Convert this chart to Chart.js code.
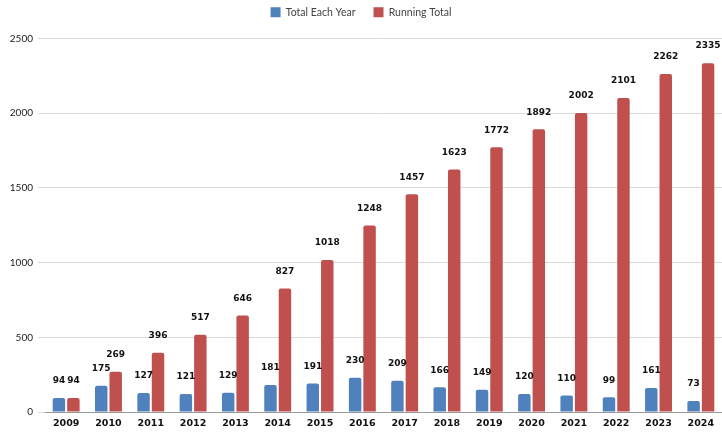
<!DOCTYPE html>
<html>
<head>
<meta charset="utf-8">
<script src="https://cdn.jsdelivr.net/npm/chart.js@4.4.1/dist/chart.umd.min.js"></script>
<style>
  html, body { margin: 0; padding: 0; background: #fff; }
  #wrap { width: 722px; height: 432px; }
</style>
</head>
<body>
<div id="wrap"><canvas id="myChart" width="722" height="432"></canvas></div>
<script>
// Data
const years = ['2009', '2010', '2011', '2012', '2013', '2014', '2015', '2016',
               '2017', '2018', '2019', '2020', '2021', '2022', '2023', '2024'];
const totalEachYear = [94, 175, 127, 121, 129, 181, 191, 230, 209, 166, 149, 120, 110, 99, 161, 73];
const runningTotal = [94, 269, 396, 517, 646, 827, 1018, 1248, 1457, 1623, 1772, 1892, 2002, 2101, 2262, 2335];
const yTicks = [0, 500, 1000, 1500, 2000, 2500];

// Draw value labels above each bar
const valueLabels = {
    id: 'valueLabels',
    afterDatasetsDraw(chart) {
        const ctx = chart.ctx;
        ctx.save();
        ctx.font = 'bold 9px "DejaVu Sans"';
        ctx.fillStyle = '#111';
        ctx.textAlign = 'center';
        ctx.textBaseline = 'middle';
        chart.data.datasets.forEach((ds, i) => {
            chart.getDatasetMeta(i).data.forEach((bar, j) => {
                ctx.fillText(ds.data[j], bar.x, bar.y - 17);
            });
        });
        ctx.restore();
    }
};

// Extra space under the legend
const legendGap = {
    id: 'legendGap',
    beforeInit(chart) {
        const fit = chart.legend.fit;
        chart.legend.fit = function () {
            fit.call(this);
            this.height += 11;
        };
    }
};

const ctx = document.getElementById('myChart').getContext('2d');
new Chart(ctx, {
    type: 'bar',
    data: {
        labels: years,
        datasets: [{
            label: 'Total Each Year',
            data: totalEachYear,
            backgroundColor: '#4f81bd',
            borderRadius: { topLeft: 2, topRight: 2 },
            borderSkipped: 'bottom'
        }, {
            label: 'Running Total',
            data: runningTotal,
            backgroundColor: '#c0504d',
            borderRadius: { topLeft: 2, topRight: 2 },
            borderSkipped: 'bottom'
        }]
    },
    options: {
        responsive: false,
        animation: false,
        layout: { padding: { top: -11, left: 0, right: 0, bottom: 0 } },
        datasets: {
            bar: { categoryPercentage: 0.684, barPercentage: 0.86 }
        },
        plugins: {
            legend: {
                position: 'top',
                labels: {
                    boxWidth: 10,
                    boxHeight: 10,
                    padding: 18,
                    color: '#444',
                    font: { family: 'Lato', size: 10.5 }
                }
            },
            tooltip: { enabled: false }
        },
        scales: {
            x: {
                afterFit: axis => { axis.height = 20; },
                grid: { display: false, drawTicks: false },
                border: { color: '#999' },
                ticks: {
                    color: '#111',
                    padding: 6,
                    font: { family: 'DejaVu Sans', size: 9.5, weight: 'bold' }
                }
            },
            y: {
                min: 0,
                max: 2500,
                afterBuildTicks: axis => { axis.ticks = yTicks.map(v => ({ value: v })); },
                afterFit: axis => { axis.width = 45; },
                grid: { color: '#d9d9d9', drawTicks: true, tickLength: 7 },
                border: { display: false },
                ticks: {
                    color: '#222',
                    padding: 5,
                    font: { family: 'Lato', size: 10 },
                    callback: v => v
                }
            }
        }
    },
    plugins: [valueLabels, legendGap]
});
</script>
</body>
</html>
